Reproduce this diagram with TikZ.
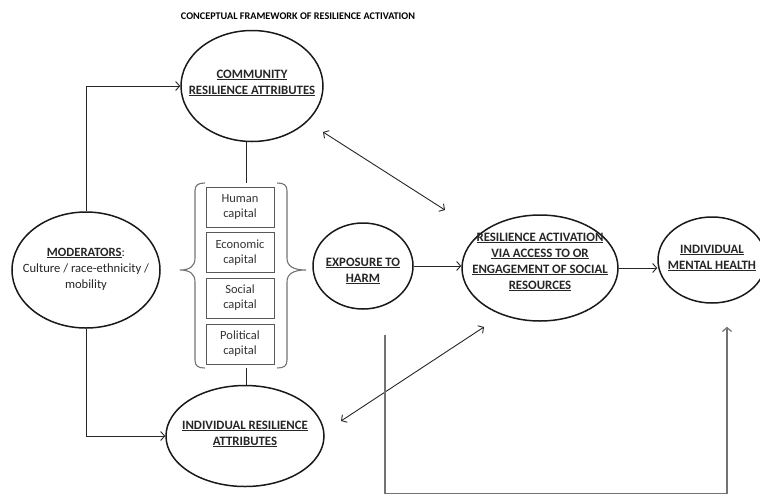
\documentclass[tikz,border=0pt]{standalone}
\usepackage{fontspec}
\setmainfont{Carlito}
\usetikzlibrary{shapes.geometric,arrows.meta,calc}

\begin{document}
\begin{tikzpicture}[
    x=1pt, y=-1pt,
    >={Straight Barb[length=4pt,width=9pt]},
    bubble/.style 2 args={draw=black!90, line width=1.5pt, ellipse, inner sep=0pt, minimum width=#1, minimum height=#2},
    heading/.style={align=center, font=\fontsize{12.8}{16}\selectfont\bfseries, text=black!85},
    plain/.style={align=center, font=\fontsize{12.6}{16}\selectfont, text=black!85},
    capbox/.style={draw=black!65, line width=0.9pt, minimum width=68pt, minimum height=40pt, inner sep=1pt, align=center, font=\fontsize{12.5}{15}\selectfont, text=black!80},
    link/.style={draw=black!85, line width=0.9pt},
    feedback/.style={draw=black!55, line width=1.2pt},
    brace/.style={draw=black!55, line width=1.1pt}
  ]
  \useasboundingbox (0,0) rectangle (760,496);

  \node (title) at (298,16) [font=\fontsize{10.2}{12}\selectfont\bfseries] {CONCEPTUAL FRAMEWORK OF RESILIENCE ACTIVATION};

  % ellipses
  \node (comm) at (252,86)  [bubble={142pt}{111pt}] {};
  \node (mod)  at (86,270)  [bubble={148pt}{116pt}] {};
  \node (ind)  at (245,436) [bubble={158pt}{101pt}] {};
  \node (exp)  at (363,266) [bubble={100pt}{86pt}] {};
  \node (res)  at (540,268) [bubble={156pt}{106pt}] {};
  \node (mh)   at (712,260) [bubble={108pt}{86pt}] {};

  \node (commt) at (252,83)  [heading] {\underline{COMMUNITY}\\ \underline{RESILIENCE ATTRIBUTES}};
  \node (modt)  at (86,269)  [plain] {\underline{\textbf{MODERATORS}}:\\ Culture / race-ethnicity /\\ mobility};
  \node (indt)  at (245,434) [heading] {\underline{INDIVIDUAL RESILIENCE}\\ \underline{ATTRIBUTES}};
  \node (expt)  at (363,271) [heading] {\underline{EXPOSURE TO}\\ \underline{HARM}};
  \node (rest)  at (540,262) [heading] {\underline{RESILIENCE ACTIVATION}\\ \underline{VIA ACCESS TO OR}\\ \underline{ENGAGEMENT OF SOCIAL}\\ \underline{RESOURCES}};
  \node (mht)   at (712,258) [heading] {\underline{INDIVIDUAL}\\ \underline{MENTAL HEALTH}};

  % capitals
  \node (hum) at (240,207)   [capbox] {Human\\ capital};
  \node (eco) at (240,252.5) [capbox] {Economic\\ capital};
  \node (soc) at (240,298)   [capbox] {Social\\ capital};
  \node (pol) at (240,344)   [capbox] {Political\\ capital};

  \draw [brace] (205,183) .. controls (198,183) and (195,185) .. (195,191)
    -- (195,258) .. controls (195,266) and (190,270) .. (180,270)
    .. controls (190,270) and (195,274) .. (195,282)
    -- (195,360) .. controls (195,366) and (198,368) .. (205,368);
  \draw [brace] (277,183) .. controls (284,183) and (287,185) .. (287,191)
    -- (287,258) .. controls (287,266) and (293,270) .. (306,270)
    .. controls (293,270) and (287,274) .. (287,282)
    -- (287,360) .. controls (287,366) and (284,368) .. (277,368);

  \coordinate (captop) at (246,183);
  \coordinate (capbot) at (246,368);
  \coordinate (fb) at (385,335);

  \draw [link] (captop) -- (captop |- comm.south);
  \draw [link] (capbot) -- (capbot |- ind.north);
  \draw [link, ->] (mod.north) |- (comm.west);
  \draw [link, ->] (mod.south) |- (ind.west);
  \draw [link, ->] (exp.east) -- (exp.east -| res.west);
  \draw [link, ->] (res.east) -- (res.east -| mh.west);
  \draw [link, <->] ($(comm)+(71,46)$) -- ($(res)+(-95,-58)$);
  \draw [link, <->] ($(res)+(-56,59)$) -- ($(ind)+(96,-15)$);
  \draw [feedback, ->] (fb) |- ($(mh.south)+(15,190)$) -- ($(mh.south)+(15,23)$);
\end{tikzpicture}
\end{document}
